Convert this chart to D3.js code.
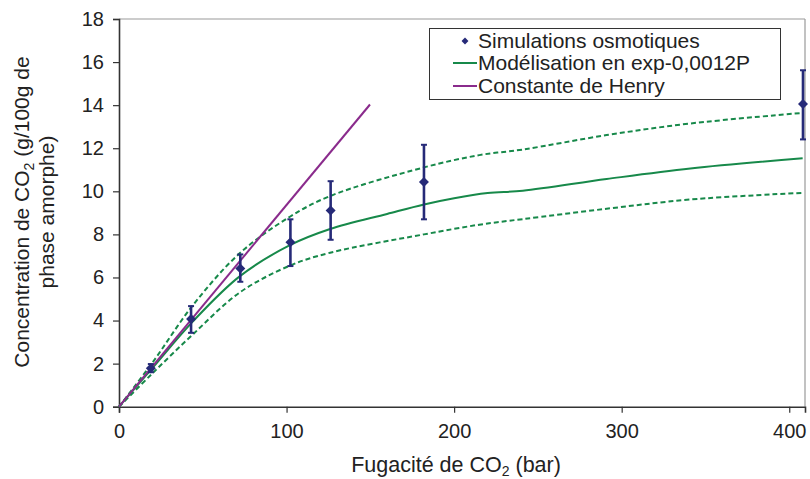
<!DOCTYPE html>
<html><head><meta charset="utf-8">
<script src="https://cdn.jsdelivr.net/npm/d3@7"></script>
<style>body{margin:0;background:#fff}svg{display:block;font-family:"Liberation Sans",Arial,sans-serif}</style>
</head><body><svg id="c" width="810" height="479"></svg>
<script>
const fugacity = [19, 43, 72.4, 102.3, 126.3, 182, 408.2];
const conc = [1.78, 4.07, 6.42, 7.63, 9.11, 10.43, 14.05];
const errLow = [1.6, 3.43, 5.80, 6.53, 7.75, 8.70, 12.41];
const errHigh = [1.98, 4.67, 7.07, 8.70, 10.47, 12.16, 15.62];

const modelX = [0, 20, 44, 72, 102, 126, 160, 182, 200, 220, 241, 291, 341, 408];
const modelY = [0, 1.8, 3.95, 6.05, 7.5, 8.25, 8.95, 9.39, 9.68, 9.92, 10.03, 10.57, 11.06, 11.53];
const upperX = [0, 20, 44, 72, 102, 126, 182, 215, 241, 291, 341, 408];
const upperY = [0, 2.05, 4.7, 7.12, 8.82, 9.78, 11.11, 11.68, 11.94, 12.61, 13.15, 13.64];
const lowerX = [0, 20, 44, 72, 102, 126, 182, 215, 241, 291, 341, 408];
const lowerY = [0, 1.55, 3.35, 5.3, 6.55, 7.15, 8.0, 8.45, 8.71, 9.19, 9.62, 9.93];
const henryX = [0, 149.8];
const henryY = [0, 14.03];

const xTicks = [0, 100, 200, 300, 400];
const yTicks = [0, 2, 4, 6, 8, 10, 12, 14, 16, 18];
const legendLabels = ["Simulations osmotiques", "Modélisation en exp-0,0012P", "Constante de Henry"];

const svg = d3.select("#c");
const L = 119, R = 805, T = 19, B = 406.7;
const x = d3.scaleLinear().domain([0, 409.4]).range([L, R]);
const y = d3.scaleLinear().domain([0, 18]).range([B, T]);

const green = "#17894a", purple = "#8a2b8c", navy = "#262a78";
const FONT = '"Liberation Sans",Arial,sans-serif';

svg.append("line").attr("x1", L).attr("x2", R).attr("y1", T).attr("y2", T).attr("stroke", "#999").attr("stroke-width", 1.2);
svg.append("line").attr("x1", R).attr("x2", R).attr("y1", T).attr("y2", B).attr("stroke", "#999").attr("stroke-width", 1.2);

const xAxis = svg.append("g").attr("transform", `translate(0,${B})`)
  .call(d3.axisBottom(x).tickValues(xTicks).tickSize(6).tickPadding(11).tickFormat(d3.format("d")));
const yAxis = svg.append("g").attr("transform", `translate(${L},0)`)
  .call(d3.axisLeft(y).tickValues(yTicks).tickSize(6).tickPadding(9).tickFormat(d3.format("d")));
[xAxis, yAxis].forEach(g => {
  g.select(".domain").attr("stroke", "#333").attr("stroke-width", 1.6);
  g.selectAll(".tick line").attr("stroke", "#333").attr("stroke-width", 1.2);
  g.selectAll(".tick text").attr("fill", "#222").style("font-size", "20px").style("font-family", FONT);
});

const line = d3.line().x(d => x(d[0])).y(d => y(d[1])).curve(d3.curveCatmullRom.alpha(0.5));
const zip = (a, b) => a.map((v, i) => [v, b[i]]);

svg.append("path").attr("d", line(zip(upperX, upperY))).attr("fill", "none").attr("stroke", green).attr("stroke-width", 2).attr("stroke-dasharray", "5,3");
svg.append("path").attr("d", line(zip(lowerX, lowerY))).attr("fill", "none").attr("stroke", green).attr("stroke-width", 2).attr("stroke-dasharray", "5,3");
svg.append("path").attr("d", line(zip(modelX, modelY))).attr("fill", "none").attr("stroke", green).attr("stroke-width", 2);
svg.append("path").attr("d", d3.line().x(d => x(d[0])).y(d => y(d[1]))(zip(henryX, henryY))).attr("fill", "none").attr("stroke", purple).attr("stroke-width", 2);

const pts = fugacity.map((f, i) => ({f, c: conc[i], lo: errLow[i], hi: errHigh[i]}));
const eb = svg.append("g").attr("stroke", navy).attr("stroke-width", 2.6);
pts.forEach(p => {
  eb.append("line").attr("x1", x(p.f)).attr("x2", x(p.f)).attr("y1", y(p.lo)).attr("y2", y(p.hi));
  eb.append("line").attr("x1", x(p.f) - 3).attr("x2", x(p.f) + 3).attr("y1", y(p.lo)).attr("y2", y(p.lo)).attr("stroke-width", 2);
  eb.append("line").attr("x1", x(p.f) - 3).attr("x2", x(p.f) + 3).attr("y1", y(p.hi)).attr("y2", y(p.hi)).attr("stroke-width", 2);
});
svg.append("g").selectAll("path").data(pts).join("path")
  .attr("transform", d => `translate(${x(d.f)},${y(d.c)}) rotate(45)`)
  .attr("d", d3.symbol(d3.symbolSquare, 50)).attr("fill", navy);

const lg = svg.append("g");
lg.append("rect").attr("x", 429.5).attr("y", 28.5).attr("width", 351).attr("height", 71).attr("fill", "#fff").attr("stroke", "#333").attr("stroke-width", 1);
const ly = [41, 63, 86];
lg.append("path").attr("transform", `translate(465,${ly[0]}) rotate(45)`).attr("d", d3.symbol(d3.symbolSquare, 24)).attr("fill", navy);
lg.append("line").attr("x1", 453).attr("x2", 477).attr("y1", ly[1]).attr("y2", ly[1]).attr("stroke", green).attr("stroke-width", 2);
lg.append("line").attr("x1", 453).attr("x2", 477).attr("y1", ly[2]).attr("y2", ly[2]).attr("stroke", purple).attr("stroke-width", 2);
legendLabels.forEach((t, i) => {
  lg.append("text").attr("x", 478).attr("y", ly[i]).attr("dy", "0.35em").attr("fill", "#222").style("font-size", "21px").text(t);
});

const xt = svg.append("text").attr("x", 456).attr("y", 472).attr("text-anchor", "middle").attr("fill", "#222").style("font-size", "21.5px");
xt.append("tspan").text("Fugacité de CO");
xt.append("tspan").attr("dy", 4).style("font-size", "14px").text("2");
xt.append("tspan").attr("dy", -4).text(" (bar)");

const yt = svg.append("text").attr("transform", "translate(29,212) rotate(-90)").attr("text-anchor", "middle").attr("fill", "#222").style("font-size", "21px");
yt.append("tspan").text("Concentration de CO");
yt.append("tspan").attr("dy", 5).style("font-size", "14px").text("2");
yt.append("tspan").attr("dy", -5).text(" (g/100g de");
svg.append("text").attr("transform", "translate(54,212) rotate(-90)").attr("text-anchor", "middle").attr("fill", "#222").style("font-size", "21px").text("phase amorphe)");
</script></body></html>
